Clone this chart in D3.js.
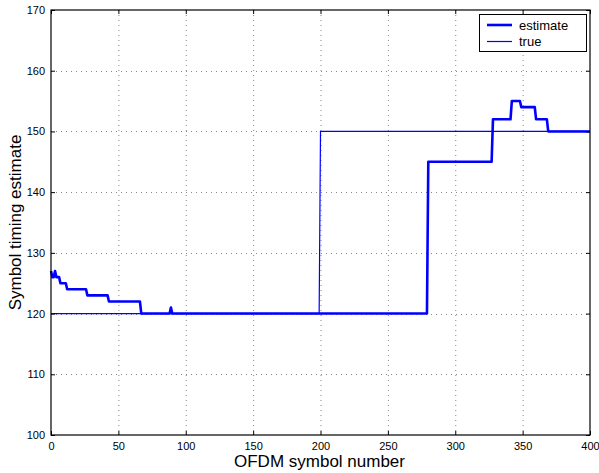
<!DOCTYPE html>
<html>
<head>
<meta charset="utf-8">
<script src="https://cdn.jsdelivr.net/npm/d3@7"></script>
<style>
  body { margin: 0; background: #fff; }
  svg { display: block; font-family: "Liberation Sans", Arial, Helvetica, sans-serif; }
</style>
</head>
<body>
<svg id="chart" width="599" height="473"></svg>
<script>
// Symbol timing estimate: change points (symbol index, timing value), held until next change
const estSymbols = [0, 1, 3, 4, 7, 12, 27, 43, 67, 89, 90, 280, 328, 342, 349, 360, 369];
const estValues  = [127, 126, 127, 126, 125, 124, 123, 122, 120, 121, 120, 145, 152, 155, 154, 152, 150];

// True timing offset: change points
const trueSymbols = [0, 200];
const trueValues  = [120, 150];

const nSymbols = 400;
const xTicks = [0, 50, 100, 150, 200, 250, 300, 350, 400];
const yTicks = [100, 110, 120, 130, 140, 150, 160, 170];
const seriesNames = ["estimate", "true"];

// expand change points into one value per OFDM symbol
function perSymbol(sym, val) {
  const out = [];
  let k = 0;
  for (let n = 0; n <= nSymbols; n++) {
    while (k + 1 < sym.length && sym[k + 1] <= n) k++;
    out.push([n, val[k]]);
  }
  return out;
}

const svg = d3.select("#chart");
const m = { left: 51, right: 590, top: 10, bottom: 435 };

const x = d3.scaleLinear().domain([0, 400]).range([m.left, m.right]);
const y = d3.scaleLinear().domain([100, 170]).range([m.bottom, m.top]);

// dotted grid
const grid = svg.append("g");
grid.selectAll("line.gx").data(xTicks.slice(1, -1)).join("line")
  .attr("x1", d => x(d) + 0.5).attr("x2", d => x(d) + 0.5)
  .attr("y1", m.top).attr("y2", m.bottom)
  .attr("stroke", "#888").attr("stroke-width", 1).attr("stroke-dasharray", "1,4");
grid.selectAll("line.gy").data(yTicks.slice(1, -1)).join("line")
  .attr("y1", d => Math.round(y(d)) + 0.5).attr("y2", d => Math.round(y(d)) + 0.5)
  .attr("x1", m.left).attr("x2", m.right)
  .attr("stroke", "#888").attr("stroke-width", 1).attr("stroke-dasharray", "1,4");

// data lines
const line = d3.line().x(d => x(d[0])).y(d => y(d[1]));
const trueData = perSymbol(trueSymbols, trueValues);
const estData = perSymbol(estSymbols, estValues);

svg.append("path").datum(trueData)
  .attr("d", line).attr("fill", "none").attr("stroke", "#0000ff").attr("stroke-width", 1.2);
svg.append("path").datum(estData)
  .attr("d", line).attr("fill", "none").attr("stroke", "#0000ff").attr("stroke-width", 2.6)
  .attr("stroke-linejoin", "round");

// axes (ticks pointing inward)
const fontSize = 11;
const xAxisB = svg.append("g").attr("transform", `translate(0,${m.bottom})`)
  .call(d3.axisBottom(x).tickValues(xTicks).tickSize(-4).tickPadding(7).tickFormat(d3.format("d")));
const xAxisT = svg.append("g").attr("transform", `translate(0,${m.top})`)
  .call(d3.axisTop(x).tickValues(xTicks).tickSize(-4).tickFormat(""));
const yAxisL = svg.append("g").attr("transform", `translate(${m.left},0)`)
  .call(d3.axisLeft(y).tickValues(yTicks).tickSize(-4).tickPadding(6).tickFormat(d3.format("d")));
const yAxisR = svg.append("g").attr("transform", `translate(${m.right},0)`)
  .call(d3.axisRight(y).tickValues(yTicks).tickSize(-4).tickFormat(""));

[xAxisB, xAxisT, yAxisL, yAxisR].forEach(g => {
  g.select(".domain").remove();
  g.selectAll("line").attr("stroke", "#000");
  g.selectAll("text").attr("fill", "#000").attr("font-size", fontSize)
    .attr("font-family", "Liberation Sans, Arial, sans-serif");
});

// axes box
svg.append("rect")
  .attr("x", m.left).attr("y", m.top)
  .attr("width", m.right - m.left).attr("height", m.bottom - m.top)
  .attr("fill", "none").attr("stroke", "#000").attr("stroke-width", 1.2);

// axis labels
svg.append("text").attr("x", (m.left + m.right) / 2 - 1).attr("y", 467)
  .attr("text-anchor", "middle").attr("font-size", 17).text("OFDM symbol number");
svg.append("text")
  .attr("transform", `translate(21,${(m.top + m.bottom) / 2}) rotate(-90)`)
  .attr("text-anchor", "middle").attr("font-size", 17).text("Symbol timing estimate");

// legend
const lg = svg.append("g");
lg.append("rect").attr("x", 479.5).attr("y", 14.5).attr("width", 107).attr("height", 37)
  .attr("fill", "#fff").attr("stroke", "#000").attr("stroke-width", 1);
const widths = [2.6, 1.2];
seriesNames.forEach((name, i) => {
  const yy = 25 + i * 16.5;
  lg.append("line").attr("x1", 487).attr("x2", 512).attr("y1", yy).attr("y2", yy)
    .attr("stroke", "#0000ff").attr("stroke-width", widths[i]);
  lg.append("text").attr("x", 519).attr("y", yy + 4.5).attr("font-size", 13)
    .text(name);
});
</script>
</body>
</html>
